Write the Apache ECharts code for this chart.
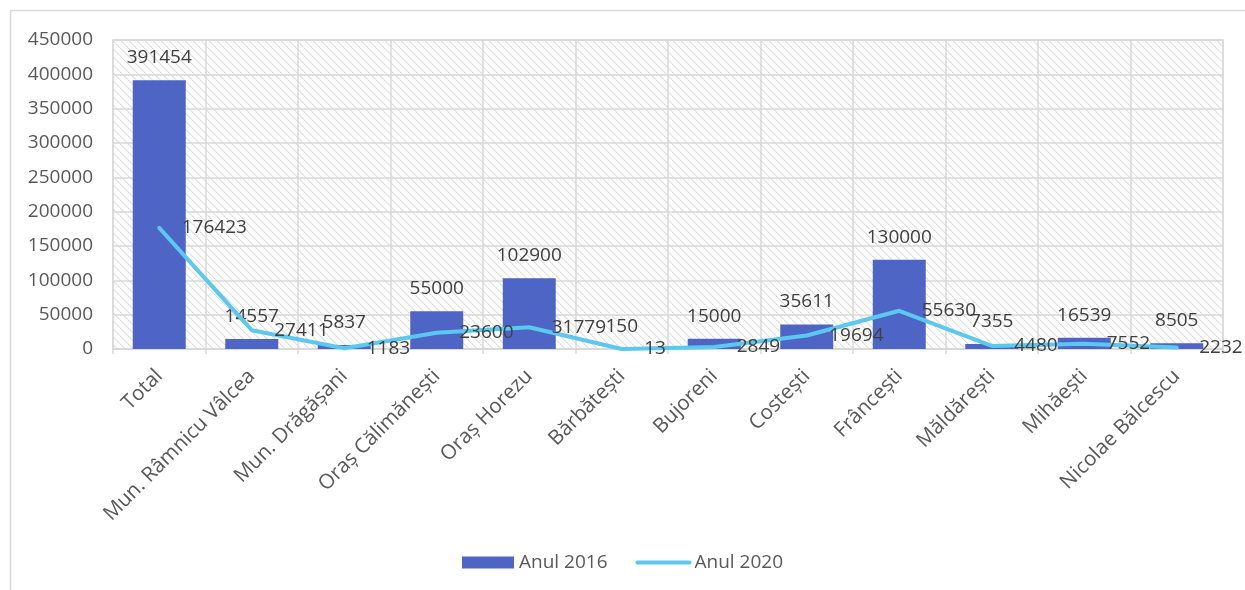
<!DOCTYPE html>
<html>
<head>
<meta charset="utf-8">
<script src="https://cdn.jsdelivr.net/npm/echarts@6/dist/echarts.min.js"></script>
<style>
  html, body { margin: 0; padding: 0; background: #fff; }
  #chart { width: 1245px; height: 590px; }
</style>
</head>
<body>
<div id="chart"></div>
<script>
// localități
const categories = [
  'Total', 'Mun. Râmnicu Vâlcea', 'Mun. Drăgășani', 'Oraș Călimănești', 'Oraș Horezu',
  'Bărbătești', 'Bujoreni', 'Costești', 'Frâncești', 'Măldărești', 'Mihăești', 'Nicolae Bălcescu'
]
// valori pe ani
const anul2016 = [391454, 14557, 5837, 55000, 102900, 150, 15000, 35611, 130000, 7355, 16539, 8505]
const anul2020 = [176423, 27411, 1183, 23600, 31779, 13, 2849, 19694, 55630, 4480, 7552, 2232]
const yTicks = [0, 50000, 100000, 150000, 200000, 250000, 300000, 350000, 400000, 450000]

const FONT = '"Open Sans", "Noto Sans", sans-serif'
const gridColor = '#d9d9d9'

// hașura diagonală de fundal (puncte pe diagonală)
function makeHatch() {
  const n = 8
  const c = document.createElement('canvas')
  c.width = n
  c.height = n
  const ctx = c.getContext('2d')
  ctx.fillStyle = '#ffffff'
  ctx.fillRect(0, 0, n, n)
  for (let i = 0; i < n; i++) {
    ctx.fillStyle = i % 2 === 0 ? '#dadada' : '#e6e6e6'
    ctx.fillRect(i, i, 1, 1)
    ctx.fillStyle = '#efefef'
    ctx.fillRect((i + 1) % n, i, 1, 1)
  }
  return c
}

const chart = echarts.init(document.getElementById('chart'))

chart.setOption({
  backgroundColor: '#ffffff',
  animation: false,
  textStyle: { fontFamily: FONT },
  graphic: [{
    type: 'rect',
    shape: { x: 10.5, y: 10.5, width: 1400, height: 800 },
    style: { fill: 'none', stroke: gridColor, lineWidth: 1.5 },
    silent: true
  }],
  grid: {
    left: 113, right: 22, top: 40, bottom: 241,
    show: true,
    backgroundColor: { image: makeHatch(), repeat: 'repeat' },
    borderColor: gridColor,
    borderWidth: 1.5
  },
  legend: {
    bottom: 13,
    left: 'center',
    itemWidth: 52,
    itemHeight: 12,
    itemGap: 28,
    textStyle: { color: '#595959', fontSize: 19, fontFamily: FONT },
    data: [
      { name: 'Anul 2016', icon: 'rect' },
      {
        name: 'Anul 2020',
        itemStyle: { opacity: 0 },
        lineStyle: { width: 4, cap: 'round', color: '#5bc8ef' }
      }
    ]
  },
  xAxis: {
    type: 'category',
    data: categories,
    boundaryGap: true,
    axisLine: { lineStyle: { color: gridColor, width: 1.5 } },
    axisTick: { show: true, length: 5, lineStyle: { color: gridColor, width: 1.5 } },
    splitLine: { show: true, lineStyle: { color: gridColor, width: 1.5 } },
    axisLabel: {
      rotate: 45,
      margin: 24,
      interval: 0,
      color: '#595959',
      fontSize: 20.5,
      fontFamily: FONT
    }
  },
  yAxis: {
    type: 'value',
    min: yTicks[0],
    max: yTicks[yTicks.length - 1],
    interval: yTicks[1] - yTicks[0],
    axisLine: { show: false },
    axisTick: { show: false },
    splitLine: { lineStyle: { color: gridColor, width: 1.5 } },
    axisLabel: {
      color: '#595959', fontSize: 19, fontFamily: FONT, margin: 20,
      formatter: v => String(v)
    }
  },
  series: [
    {
      name: 'Anul 2016',
      type: 'bar',
      data: anul2016,
      barWidth: 53,
      itemStyle: { color: '#4e65c6' },
      label: {
        show: true,
        position: 'top',
        distance: 13,
        color: '#404040',
        fontSize: 19,
        fontFamily: FONT
      }
    },
    {
      name: 'Anul 2020',
      type: 'line',
      data: anul2020,
      symbol: 'circle',
      symbolSize: 1,
      lineStyle: { color: '#5bc8ef', width: 4, cap: 'round', join: 'round' },
      itemStyle: { color: '#5bc8ef' },
      label: {
        show: true,
        position: 'right',
        distance: 22,
        color: '#404040',
        fontSize: 19,
        fontFamily: FONT
      }
    }
  ]
})
</script>
</body>
</html>
